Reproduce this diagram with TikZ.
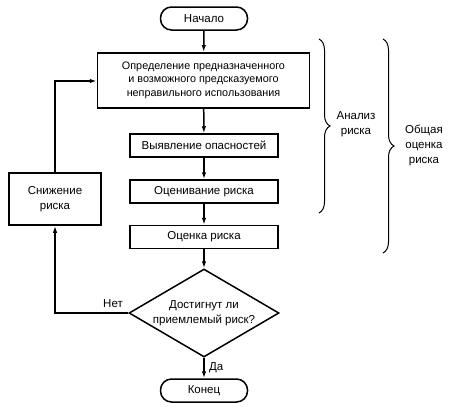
\documentclass[tikz,border=0pt]{standalone}
\usepackage{fontspec}
\setmainfont{Liberation Sans}
\usetikzlibrary{arrows.meta,shapes.geometric,decorations.pathreplacing}
\begin{document}
\begin{tikzpicture}[x=1pt,y=-1pt,
  font=\fontsize{11.5}{15}\selectfont,
  box/.style={draw,line width=1.5pt,inner sep=0pt,align=center,minimum width=#1},
  term/.style={draw,line width=1.5pt,inner sep=0pt,rounded corners=11pt,minimum width=87pt,minimum height=23pt},
  arr/.style={line width=1.5pt,-{Latex[length=7pt,width=4.5pt]}},
  brc/.style={line width=1pt,decorate,decoration={brace,amplitude=11pt,aspect=0.5}}]
\useasboundingbox (0,0) rectangle (449,408);
\node[term] (start) at (204,18.5) {Начало};
\node[box=212pt,minimum height=55pt,font=\fontsize{10.8}{13.8}\selectfont] (b1) at (203.5,80.3) {Определение предназначенного\\и возможного предсказуемого\\неправильного использования};
\node[box=148pt,minimum height=23pt] (b2) at (204,145.5) {Выявление опасностей};
\node[box=148pt,minimum height=23pt] (b3) at (204,191.5) {Оценивание риска};
\node[box=148pt,minimum height=23pt] (b4) at (204,237) {Оценка риска};
\node[draw,line width=1.5pt,diamond,aspect=1.7,inner sep=0pt,minimum width=150pt,minimum height=88pt,align=center] (dec) at (204,313) {Достигнут ли\\приемлемый риск?};
\node[term] (end) at (204,390.5) {Конец};
\node[box=92pt,minimum height=52pt] (red) at (55,199) {Снижение\\риска};
\coordinate (c1) at (55,313);
\coordinate (c2) at (55,81);
\draw[arr] (start) -- (b1);
\draw[arr] (b1) -- (b2);
\draw[arr] (b2) -- (b3);
\draw[arr] (b3) -- (b4);
\draw[arr] (b4) -- (dec.north);
\draw[arr] (dec.south) -- node[right,xshift=1pt] (da) {Да} (end);
\draw[arr] (dec.west) -- (c1) -- (red.south);
\node (net) at (113,304) {Нет};
\draw[arr] (red.north) -- (c2) -- (c2 -| b1.west);
\coordinate (ba1) at (319,39);
\coordinate (ba2) at (319,213);
\coordinate (bb1) at (383,39);
\coordinate (bb2) at (383,253);
\draw[brc] (ba1) -- (ba2);
\draw[brc] (bb1) -- (bb2);
\node[align=center] (an) at (356,124) {Анализ\\риска};
\node[align=center] (ob) at (424,145) {Общая\\оценка\\риска};
\end{tikzpicture}
\end{document}
